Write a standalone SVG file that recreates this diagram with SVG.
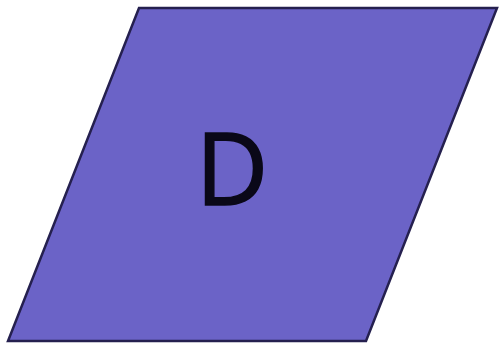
<svg xmlns="http://www.w3.org/2000/svg" width="501" height="348" viewBox="0 0 501 348">
<style>
.shape{fill:#6b63c7;stroke:#25204f;stroke-width:2.5;stroke-linejoin:miter}
.lbl{font-family:"Open Sans","Liberation Sans",sans-serif;font-size:100px;fill:#0a0818;stroke:#0a0818;stroke-width:1.5;text-anchor:middle}
</style>
<rect width="501" height="348" fill="#ffffff"/>
<g id="node-D">
<polygon class="shape" points="139,8 497,8 366,341 8,341"/>
<text class="lbl" x="232" y="205">D</text>
</g>
<g id="connectors"></g>
</svg>
